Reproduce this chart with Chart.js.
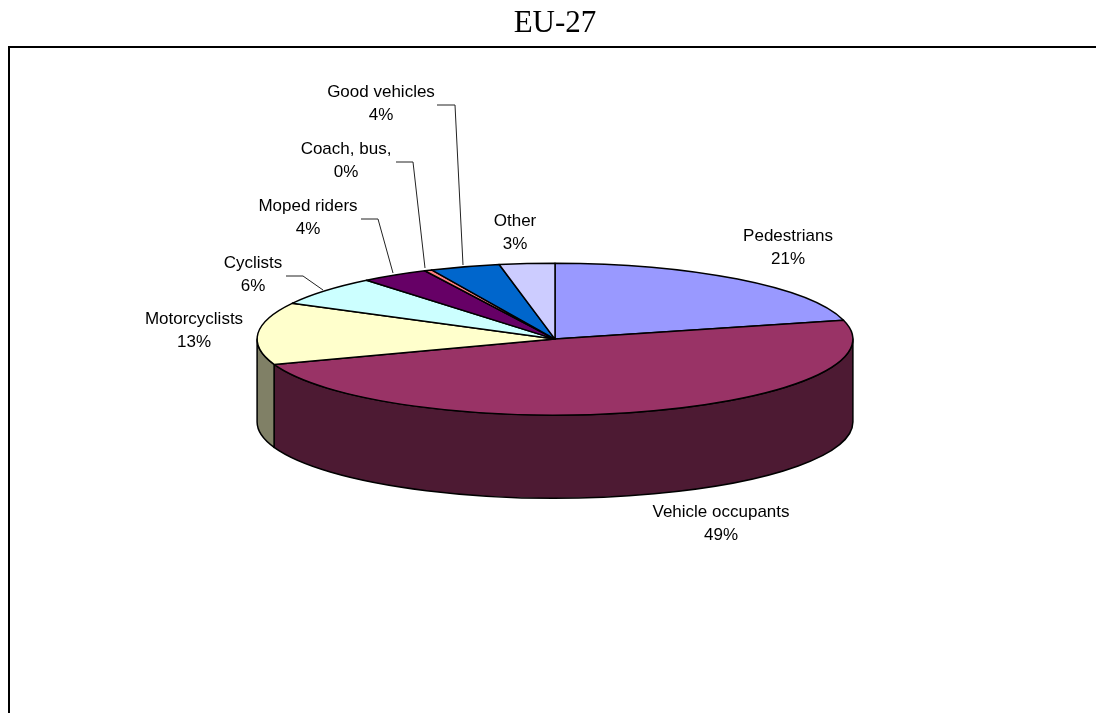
<!DOCTYPE html>
<html lang="en">
<head>
  <meta charset="UTF-8">
  <title>EU-27</title>
  <script src="https://cdn.jsdelivr.net/npm/chart.js"></script>
  <style>
    html, body { margin: 0; padding: 0; background: #fff; overflow: hidden; }
    #wrap { position: absolute; left: 0; top: 0; width: 1096px; height: 713px; }
  </style>
</head>
<body>
  <div id="wrap"><canvas id="pie"></canvas></div>
  <script>
    const categories = ['Pedestrians', 'Vehicle occupants', 'Motorcyclists', 'Cyclists', 'Moped riders', 'Coach, bus,', 'Good vehicles', 'Other'];
    const shares = [21, 48.6, 13.2, 6.3, 3.7, 0.4, 3.8, 3];
    const shareLabels = ['21%', '49%', '13%', '6%', '4%', '0%', '4%', '3%'];
    const topColors = ['#9999ff', '#993366', '#ffffcc', '#ccffff', '#660066', '#ff8080', '#0066cc', '#ccccff'];
    const sideColors = ['#4d4d80', '#4d1a33', '#808066', '#668080', '#330033', '#804040', '#003366', '#666680'];

    // label centre x / first line y, and leader polyline (screen px)
    const labelPos = [
      [788, 236], [721, 512], [194, 319], [253, 263], [308, 206], [346, 149], [381, 92], [515, 221]
    ];
    const leaders = {
      3: [[286, 276], [303, 276], [323, 290]],
      4: [[361, 219], [378, 219], [393, 273]],
      5: [[396, 162], [413, 162], [425, 268]],
      6: [[437, 105], [455, 105], [463, 265]]
    };

    const squash = 76 / 298;   // ellipse ratio of the tilted pie
    const depth = 83;

    function eachArc(chart, fn) {
      chart.getDatasetMeta(0).data.forEach((arc, i) => fn(arc, i));
    }

    function drawTop(ctx, arc, fill) {
      const { x, y, startAngle, endAngle, outerRadius } = arc.getProps(['x', 'y', 'startAngle', 'endAngle', 'outerRadius'], true);
      ctx.beginPath();
      ctx.moveTo(x, y);
      ctx.ellipse(x, y, outerRadius, outerRadius * squash, 0, startAngle, endAngle);
      ctx.closePath();
      ctx.fillStyle = fill;
      ctx.fill();
      ctx.stroke();
    }

    // wall of one slice: only the part of its rim that faces the viewer (0..PI)
    function drawWall(ctx, arc, fill) {
      const { x, y, startAngle, endAngle, outerRadius } = arc.getProps(['x', 'y', 'startAngle', 'endAngle', 'outerRadius'], true);
      const from = Math.max(startAngle, 0);
      const to = Math.min(endAngle, Math.PI);
      if (to <= from) return;
      const ry = outerRadius * squash;
      ctx.beginPath();
      ctx.ellipse(x, y, outerRadius, ry, 0, from, to);
      ctx.ellipse(x, y + depth, outerRadius, ry, 0, to, from, true);
      ctx.closePath();
      ctx.fillStyle = fill;
      ctx.fill();
      ctx.stroke();
    }

    const tiltPlugin = {
      id: 'tilt',
      beforeDatasetsDraw(chart) {
        const ctx = chart.ctx;
        ctx.save();
        ctx.strokeStyle = '#000';
        ctx.lineWidth = 1.5;
        ctx.lineJoin = 'round';
        eachArc(chart, (arc, i) => drawWall(ctx, arc, sideColors[i]));
        eachArc(chart, (arc, i) => drawTop(ctx, arc, topColors[i]));
        ctx.restore();
        return false;
      },
      afterDraw(chart) {
        const ctx = chart.ctx;
        ctx.save();
        // frame, open on the right and at the bottom of the photo
        ctx.strokeStyle = '#000';
        ctx.lineWidth = 2;
        ctx.beginPath();
        ctx.moveTo(9, 713); ctx.lineTo(9, 47); ctx.lineTo(1096, 47);
        ctx.stroke();
        // leaders
        ctx.lineWidth = 1;
        ctx.strokeStyle = '#222';
        Object.values(leaders).forEach(pts => {
          ctx.beginPath();
          pts.forEach((p, j) => j ? ctx.lineTo(p[0], p[1]) : ctx.moveTo(p[0], p[1]));
          ctx.stroke();
        });
        // data labels
        ctx.fillStyle = '#000';
        ctx.font = '17px "Liberation Sans"';
        ctx.textAlign = 'center';
        ctx.textBaseline = 'middle';
        categories.forEach((name, i) => {
          const [x, y] = labelPos[i];
          ctx.fillText(name, x, y);
          ctx.fillText(shareLabels[i], x, y + 23.5);
        });
        ctx.restore();
      }
    };

    new Chart(document.getElementById('pie'), {
      type: 'pie',
      data: {
        labels: categories,
        datasets: [{ data: shares, backgroundColor: topColors, borderWidth: 0 }]
      },
      options: {
        responsive: true,
        maintainAspectRatio: false,
        animation: false,
        layout: { padding: { left: 257, right: 243, top: 0, bottom: 76 } },
        plugins: {
          legend: { display: false },
          tooltip: { enabled: false },
          title: {
            display: true,
            text: 'EU-27',
            color: '#000',
            font: { family: '"Liberation Serif"', size: 31, weight: 'normal' },
            padding: { top: 5, bottom: -1 }
          }
        }
      },
      plugins: [tiltPlugin]
    });
  </script>
</body>
</html>
